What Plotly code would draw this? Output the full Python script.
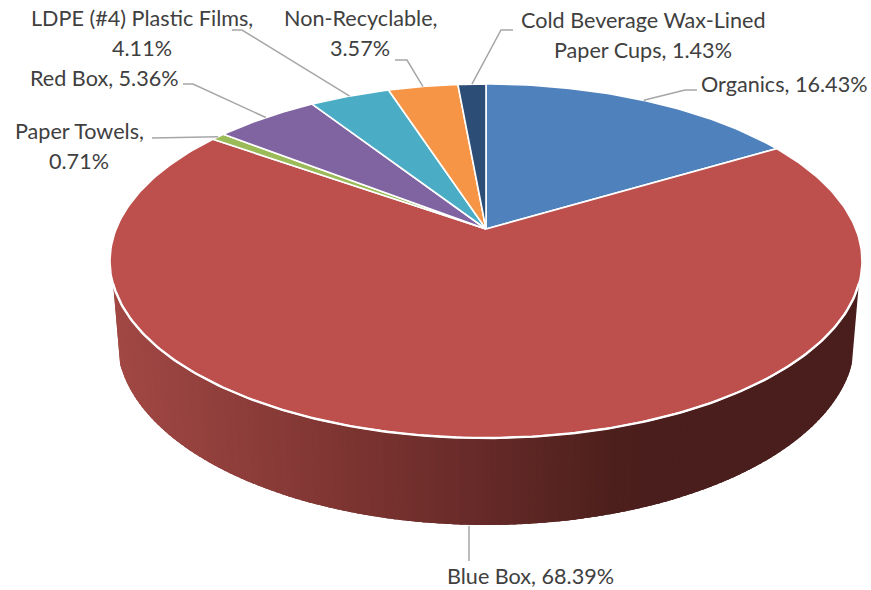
import numpy as np
import plotly.graph_objects as go

# ---- data ----
categories = ["Organics", "Blue Box", "Paper Towels", "Red Box",
              "LDPE (#4) Plastic Films", "Non-Recyclable",
              "Cold Beverage Wax-Lined Paper Cups"]
values = [16.43, 68.39, 0.71, 5.36, 4.11, 3.57, 1.43]
colors = ["#4f81bd", "#bd4f4c", "#9bbb59", "#8064a2", "#4bacc6", "#f59545", "#2c4d75"]
label_lines = [
    ["Organics, 16.43%"],
    ["Blue Box, 68.39%"],
    ["Paper Towels,", "0.71%"],
    ["Red Box, 5.36%"],
    ["LDPE (#4) Plastic Films,", "4.11%"],
    ["Non-Recyclable,", "3.57%"],
    ["Cold Beverage Wax-Lined", "Paper Cups, 1.43%"],
]

# ---- layout of labels: centre x, first line y, leader path from the label ----
label_pos = [(784, 84), (530, 576), (79, 131), (104, 78), (142, 18), (360, 18), (643, 20)]
elbows = [[(697, 90), (685, 90)], [(469, 561), (469, 526)], [(152, 138)],
          [(183, 84), (193, 84)], [(232, 30), (242, 30)],
          [(395, 60), (407, 60)], [(513, 30), (501, 30)]]
LINE_H = 29.5
FONT = "Lato, Carlito, sans-serif"
TEXT = "#404040"

# ---- perspective model of the pie top ----
CX, CY, A, B, K = 486, 229, 369.8, 171.2, 0.1808


def top_xy(theta):
    X, Y = np.sin(theta), np.cos(theta)
    d = 1 + K * Y
    return CX + A * X / d, CY - B * Y / d


fig = go.Figure()

# ---- side wall: overlapping strips between rim and bottom ellipse, shaded by x ----
shade_x = [110, 200, 380, 486, 620, 660, 862]
shade_r = [163, 150, 122, 104, 78, 74, 74]
shade_g = [73, 66, 51, 43, 32, 30, 30]
shade_b = [69, 63, 48, 41, 29, 28, 28]
T0, T1 = 0.13, np.pi - 0.13
edges = np.linspace(T0, T1, 141)
# drawn left to right, each strip reaching back over the previous one
for t0, t1 in zip(edges[::-1][:-1], edges[::-1][1:]):
    back = min(t0 + 0.03, T1)
    ts = np.linspace(back, t1, 5)
    xt = 486 + 376 * np.cos(ts)
    yt = 261 + 177 * np.sin(ts)
    xb = 486 + 369 * np.cos(ts)
    yb = 340 + 185 * np.sin(ts)
    xm = 486 + 372 * np.cos((t0 + t1) / 2)
    c = "rgb(%d,%d,%d)" % (np.interp(xm, shade_x, shade_r),
                           np.interp(xm, shade_x, shade_g),
                           np.interp(xm, shade_x, shade_b))
    fig.add_trace(go.Scatter(
        x=np.r_[xt, xb[::-1], xt[0]], y=np.r_[yt, yb[::-1], yt[0]],
        mode="lines", fill="toself", fillcolor=c,
        line=dict(color=c, width=0), hoverinfo="skip", showlegend=False))

# ---- top slices ----
cum = np.cumsum([0] + values)
total = cum[-1]
for i, cat in enumerate(categories):
    th = np.linspace(cum[i], cum[i + 1], max(int(values[i] * 4), 6)) / total * 2 * np.pi
    x, y = top_xy(th)
    fig.add_trace(go.Scatter(
        x=np.r_[CX, x, CX], y=np.r_[CY, y, CY], mode="lines", fill="toself",
        fillcolor=colors[i], line=dict(color="white", width=1.6),
        name=cat, text=f"{cat}: {values[i]}%", hoverinfo="text", showlegend=False))

# ---- white rim along the front ----
rim_t = np.linspace(T0, T1, 200)
fig.add_trace(go.Scatter(
    x=486 + 376 * np.cos(rim_t), y=261 + 177 * np.sin(rim_t), mode="lines",
    line=dict(color="white", width=2.4), hoverinfo="skip", showlegend=False))

# ---- leaders + labels ----
for i, cat in enumerate(categories):
    mid = (cum[i] + cum[i + 1]) / 2 / total * 2 * np.pi
    mx, my = top_xy(mid)
    pts = list(elbows[i])
    if cat != "Blue Box":
        pts.append((float(mx), float(my)))
    fig.add_trace(go.Scatter(
        x=[p[0] for p in pts], y=[p[1] for p in pts], mode="lines",
        line=dict(color="#a6a6a6", width=1.5), hoverinfo="skip", showlegend=False))
    lx, ly = label_pos[i]
    for j, line in enumerate(label_lines[i]):
        fig.add_annotation(x=lx, y=ly + j * LINE_H, text=line, showarrow=False,
                           xanchor="center", yanchor="middle",
                           font=dict(family=FONT, size=21.6, color=TEXT))

fig.update_layout(
    width=871, height=590, margin=dict(l=0, r=0, t=0, b=0),
    paper_bgcolor="white", plot_bgcolor="white", showlegend=False,
    xaxis=dict(range=[0, 871], visible=False, fixedrange=True),
    yaxis=dict(range=[590, 0], visible=False, fixedrange=True),
)
fig.write_html("out.html", config={"displayModeBar": False},
               post_script="document.body.style.margin='0';")
